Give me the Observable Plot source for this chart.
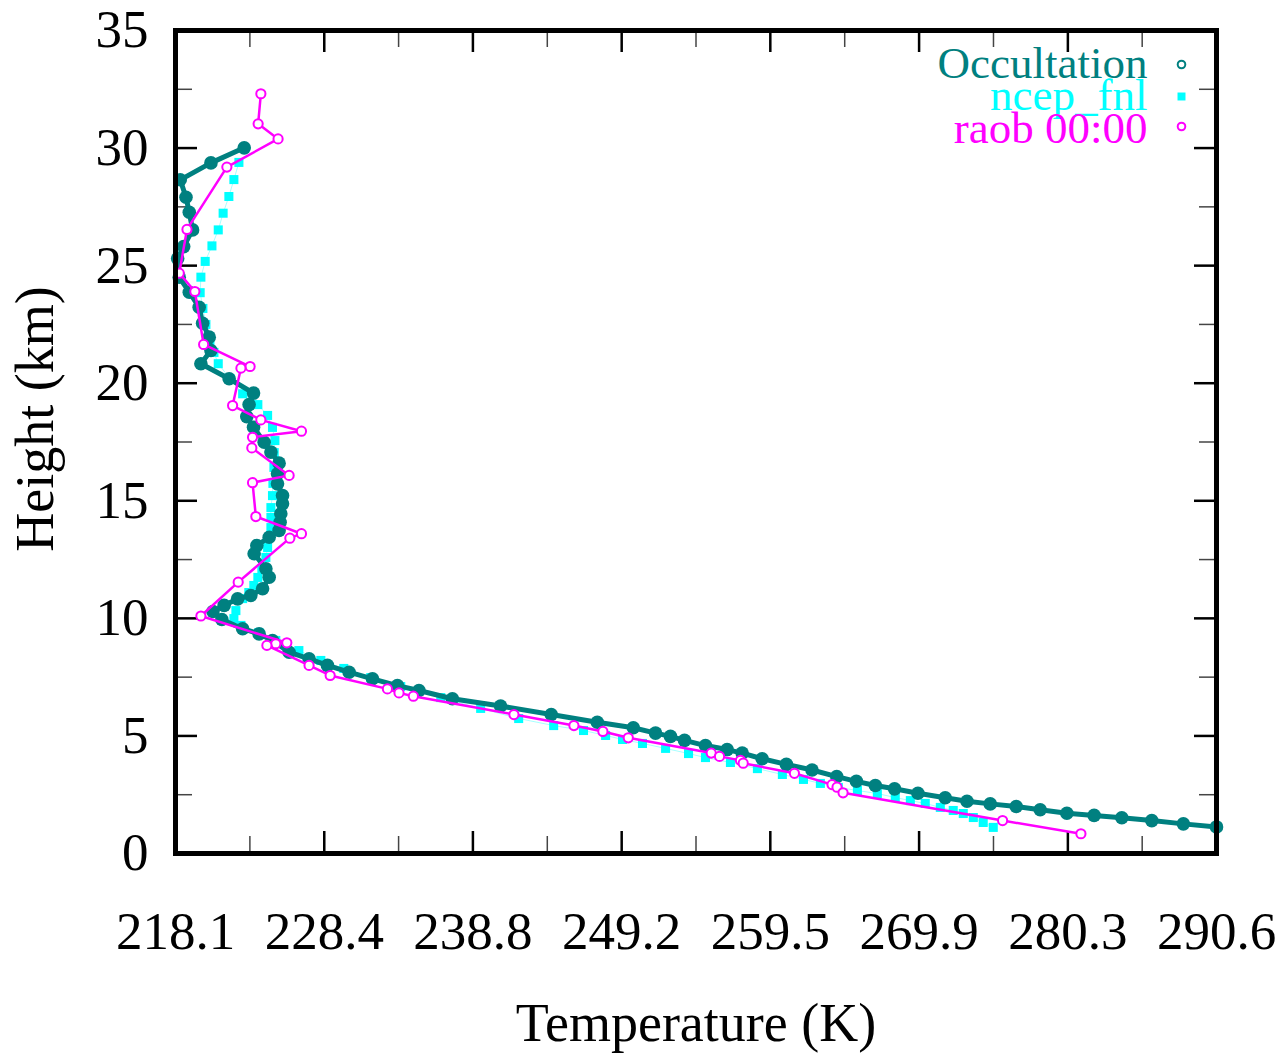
<!DOCTYPE html>
<html><head><meta charset="utf-8">
<script src="https://cdn.jsdelivr.net/npm/d3@7"></script>
<script src="https://cdn.jsdelivr.net/npm/@observablehq/plot@0.6"></script>
<style>body{margin:0;background:#fff} #chart svg{display:block}</style>
</head><body><div id="chart"></div>
<script>
// ---- data ----
const occTemp = [222.86,220.54,218.40,218.80,219.03,219.26,218.64,218.22,218.33,219.03,219.72,219.96,220.42,220.54,219.84,221.81,223.51,223.20,223.04,223.51,224.25,224.72,225.29,225.18,225.18,225.53,225.53,225.41,225.36,225.29,224.60,223.74,223.55,224.37,224.60,224.14,223.32,222.40,221.46,220.68,221.30,222.75,223.90,224.83,225.99,227.38,228.66,230.17,231.80,233.54,235.04,237.37,240.73,244.26,247.47,249.98,251.53,252.57,253.55,255.01,256.52,257.57,258.96,260.65,262.44,264.16,265.53,266.85,268.19,269.82,271.72,273.24,274.86,276.67,278.34,280.20,282.10,284.03,286.12,288.32,290.63];
const occHeight = [30.01,29.37,28.65,27.91,27.27,26.52,25.81,25.30,24.51,23.87,23.23,22.55,21.96,21.39,20.83,20.19,19.58,19.09,18.58,18.13,17.49,17.07,16.60,16.15,15.72,15.22,14.87,14.45,14.09,13.74,13.45,13.10,12.75,12.11,11.75,11.26,10.97,10.83,10.55,10.29,9.95,9.56,9.34,9.06,8.56,8.28,8.00,7.71,7.43,7.14,6.93,6.58,6.27,5.91,5.58,5.35,5.12,4.98,4.81,4.59,4.42,4.27,4.03,3.79,3.55,3.27,3.07,2.89,2.75,2.56,2.37,2.22,2.11,2.00,1.86,1.71,1.62,1.52,1.40,1.26,1.13];

const ncepTemp = [222.49,222.14,221.79,221.39,221.05,220.61,220.14,219.84,219.79,219.98,220.19,220.47,220.75,221.05,221.86,222.75,223.81,224.49,224.83,225.00,224.95,224.93,224.86,224.83,224.72,224.72,224.72,224.58,224.49,224.37,224.09,223.81,223.53,223.18,222.75,222.28,222.14,222.63,223.88,225.06,226.67,228.20,229.80,231.68,233.77,236.56,239.34,241.99,244.43,246.51,248.05,249.23,250.62,252.23,253.83,255.01,256.75,258.63,260.37,261.84,263.02,264.27,265.60,266.99,268.24,269.29,270.33,271.38,272.28,272.98,273.68,274.37,275.07];
const ncepHeight = [29.39,28.66,27.94,27.23,26.52,25.84,25.18,24.51,23.85,23.18,22.50,21.82,21.31,20.83,20.20,19.55,19.09,18.63,18.12,17.56,17.05,16.42,15.74,15.22,14.71,14.29,13.86,13.44,13.01,12.59,12.12,11.74,11.40,11.10,10.84,10.33,9.99,9.70,9.40,9.06,8.63,8.21,7.87,7.48,7.10,6.63,6.17,5.74,5.44,5.23,5.02,4.85,4.68,4.47,4.25,4.08,3.87,3.61,3.36,3.15,2.98,2.81,2.68,2.55,2.38,2.25,2.13,1.96,1.83,1.70,1.53,1.32,1.11];

const raobTemp = [224.02,223.83,225.22,221.65,218.87,218.33,219.42,220.03,223.27,222.63,222.05,224.02,226.85,223.44,223.39,225.99,223.44,223.67,226.85,226.04,222.44,219.84,225.83,225.06,224.44,227.38,228.85,232.84,233.65,234.65,241.66,245.84,247.86,249.63,255.41,255.99,257.45,257.64,261.21,263.83,264.18,264.60,275.72,281.18];
const raobHeight = [32.31,31.03,30.39,29.19,26.54,24.68,23.90,21.65,20.71,20.64,19.05,18.44,17.96,17.70,17.25,16.08,15.77,14.33,13.60,13.41,11.54,10.10,8.96,8.92,8.85,8.00,7.57,7.00,6.83,6.69,5.91,5.44,5.19,4.92,4.27,4.13,3.96,3.84,3.41,2.93,2.82,2.58,1.40,0.84];

const xTickValues = [218.07,228.44,238.80,249.17,259.53,269.90,280.27,290.63];
const xTickLabels = ["218.1","228.4","238.8","249.2","259.5","269.9","280.3","290.6"];
const yTickValues = [0,5,10,15,20,25,30,35];
const yMinorValues = [2.5,7.5,12.5,17.5,22.5,27.5,32.5];
const xDomain = [218.07,290.63];
const yDomain = [0,35];

const seriesNames = ["Occultation","ncep_fnl","raob 00:00"];
const seriesColors = ["#008080","#00ffff","#ff00ff"];
const xLabel = "Temperature (K)";
const yLabel = "Height (km)";

// ---- build ----
const occ = occTemp.map((t,i)=>({t, h: occHeight[i]}));
const ncep = ncepTemp.map((t,i)=>({t, h: ncepHeight[i]}));
const raob = raobTemp.map((t,i)=>({t, h: raobHeight[i]}));
const xMinorValues = d3.pairs(xTickValues).map(([a,b])=>(a+b)/2);

const W=1286, H=1055, mL=175, mR=70, mT=30, mB=202;
const pW = W-mL-mR, pH = H-mT-mB;
const font = "'Liberation Serif','Times New Roman',serif";
const tickFS = 53, labelFS = 54, legendFS = 45;
const majLen = 22, minLen = 17;

const chart = Plot.plot({
  width: W, height: H,
  marginLeft: mL, marginRight: mR, marginTop: mT, marginBottom: mB,
  style: {fontFamily: font, background: "white", color: "black", overflow: "visible"},
  x: {domain: xDomain, label: null},
  y: {domain: yDomain, label: null},
  marks: [
    // tick labels
    Plot.axisX({ticks: xTickValues, tickSize: 0, tickPadding: 58, label: null,
      tickFormat: d => xTickLabels[xTickValues.indexOf(d)], fontSize: tickFS, fontFamily: font}),
    Plot.axisY({ticks: yTickValues, tickSize: 0, tickPadding: 27, label: null,
      tickFormat: d => String(d), fontSize: tickFS, fontFamily: font}),
    // inward ticks (bottom/top)
    Plot.ruleX(xTickValues, {x: d=>d, insetTop: pH-majLen, stroke: "black", strokeWidth: 2.5}),
    Plot.ruleX(xTickValues, {x: d=>d, insetBottom: pH-majLen, stroke: "black", strokeWidth: 2.5}),
    Plot.ruleX(xMinorValues, {x: d=>d, insetTop: pH-minLen, stroke: "#444", strokeWidth: 1.5}),
    Plot.ruleX(xMinorValues, {x: d=>d, insetBottom: pH-minLen, stroke: "#444", strokeWidth: 1.5}),
    // inward ticks (left/right)
    Plot.ruleY(yTickValues, {y: d=>d, insetRight: pW-majLen, stroke: "black", strokeWidth: 2.5}),
    Plot.ruleY(yTickValues, {y: d=>d, insetLeft: pW-majLen, stroke: "black", strokeWidth: 2.5}),
    Plot.ruleY(yMinorValues, {y: d=>d, insetRight: pW-minLen, stroke: "#444", strokeWidth: 1.5}),
    Plot.ruleY(yMinorValues, {y: d=>d, insetLeft: pW-minLen, stroke: "#444", strokeWidth: 1.5}),
    // ncep_fnl
    Plot.line(ncep, {x: "t", y: "h", stroke: seriesColors[1], strokeWidth: 1, strokeOpacity: 0.35}),
    Plot.dot(ncep, {x: "t", y: "h", symbol: "square", r: 5.1, fill: seriesColors[1], stroke: "none"}),
    // Occultation
    Plot.line(occ, {x: "t", y: "h", stroke: seriesColors[0], strokeWidth: 5}),
    Plot.dot(occ, {x: "t", y: "h", r: 6.8, fill: seriesColors[0], stroke: "none"}),
    // raob
    Plot.line(raob, {x: "t", y: "h", stroke: seriesColors[2], strokeWidth: 2.5}),
    Plot.dot(raob, {x: "t", y: "h", r: 4.6, fill: "white", stroke: seriesColors[2], strokeWidth: 2}),
    // frame
    Plot.frame({stroke: "black", strokeWidth: 5}),
    // legend
    Plot.text([seriesNames[0]], {text: d=>d, frameAnchor: "top-right", textAnchor: "end", lineAnchor: "middle", dx: -69, dy: 33, fill: seriesColors[0], fontSize: legendFS, fontFamily: font}),
    Plot.text([seriesNames[1]], {text: d=>d, frameAnchor: "top-right", textAnchor: "end", lineAnchor: "middle", dx: -69, dy: 65, fill: seriesColors[1], fontSize: legendFS, fontFamily: font}),
    Plot.text([seriesNames[2]], {text: d=>d, frameAnchor: "top-right", textAnchor: "end", lineAnchor: "middle", dx: -69, dy: 98, fill: seriesColors[2], fontSize: legendFS, fontFamily: font}),
    Plot.dot([0], {frameAnchor: "top-right", dx: -35, dy: 34, r: 3.8, fill: "none", stroke: seriesColors[0], strokeWidth: 2}),
    Plot.dot([0], {frameAnchor: "top-right", dx: -35, dy: 66, r: 4.5, symbol: "square", fill: seriesColors[1], stroke: "none"}),
    Plot.dot([0], {frameAnchor: "top-right", dx: -35, dy: 96, r: 3.8, fill: "none", stroke: seriesColors[2], strokeWidth: 2}),
    // axis titles
    Plot.text([xLabel], {text: d=>d, frameAnchor: "bottom", textAnchor: "middle", lineAnchor: "middle", dy: 170, fontSize: labelFS, fontFamily: font, fill: "black"}),
    Plot.text([yLabel], {text: d=>d, frameAnchor: "left", textAnchor: "middle", lineAnchor: "middle", rotate: -90, dx: -140, dy: -23, fontSize: labelFS, fontFamily: font, fill: "black"})
  ]
});
document.getElementById("chart").appendChild(chart);
</script>
</body></html>
